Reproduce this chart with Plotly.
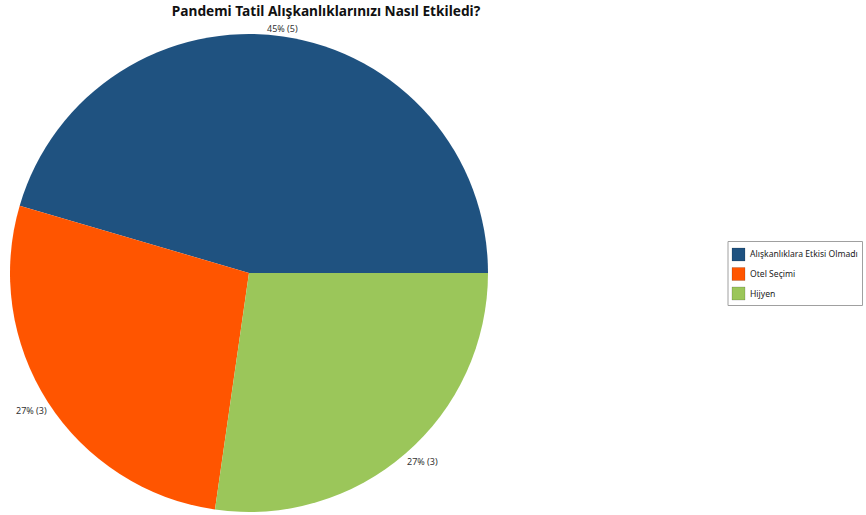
import math
import plotly.graph_objects as go

labels = ["Alışkanlıklara Etkisi Olmadı", "Otel Seçimi", "Hijyen"]
values = [5, 3, 3]
colors = ["#1F5280", "#FF5500", "#9BC65A"]

W, H = 866, 515
cx, cy, r = 249, 273, 239
FONT = "Noto Sans, sans-serif"

total = sum(values)
# first slice runs counter-clockwise from 3 o'clock
first_span = 360 * values[0] / total

fig = go.Figure(
    go.Pie(
        labels=labels,
        values=values,
        sort=False,
        direction="counterclockwise",
        rotation=90 - first_span,
        marker=dict(colors=colors, line=dict(width=0)),
        textinfo="none",
        hoverinfo="label+value+percent",
        domain=dict(
            x=[(cx - r) / W, (cx + r) / W],
            y=[(H - cy - r) / H, (H - cy + r) / H],
        ),
        automargin=False,
        showlegend=False,
    )
)

annotations = []

# "pct% (n)" labels just outside each slice, along its mid angle
start = 0.0
for v in values:
    span = 360 * v / total
    mid = math.radians(start + span / 2)
    start += span
    c, s = math.cos(mid), math.sin(mid)
    px = cx + (r - 1) * c
    py = cy - (r - 1) * s
    xa = "center" if abs(c) < 0.3 else ("left" if c > 0 else "right")
    ya = "middle" if abs(s) < 0.3 else ("bottom" if s > 0 else "top")
    annotations.append(
        dict(
            text=f"{round(100 * v / total)}% ({v})",
            xref="paper", yref="paper",
            x=px / W, y=1 - py / H,
            xanchor=xa, yanchor=ya, showarrow=False,
            font=dict(family=FONT, size=9, color="#333333"),
        )
    )

# boxed legend on the right
box_x0, box_y0, box_x1, box_y1 = 728, 241.5, 862.5, 305.5
row_y0, row_gap, sw = 248, 19.5, 13
shapes = [
    dict(
        type="rect", xref="paper", yref="paper",
        x0=box_x0 / W, x1=box_x1 / W,
        y0=1 - box_y1 / H, y1=1 - box_y0 / H,
        line=dict(color="#A0A0A0", width=1), fillcolor="white", layer="below",
    )
]
for i, (lab, col) in enumerate(zip(labels, colors)):
    top = row_y0 + i * row_gap
    shapes.append(
        dict(
            type="rect", xref="paper", yref="paper",
            x0=732 / W, x1=(732 + sw) / W,
            y0=1 - (top + sw) / H, y1=1 - top / H,
            fillcolor=col, line=dict(color="rgba(0,0,0,0.25)", width=0.6),
        )
    )
    annotations.append(
        dict(
            text=lab, xref="paper", yref="paper",
            x=748 / W, y=1 - (top + sw / 2) / H,
            xanchor="left", yanchor="middle", showarrow=False,
            font=dict(family=FONT, size=8.6, color="#222222"),
        )
    )

fig.update_layout(
    width=W,
    height=H,
    margin=dict(l=0, r=0, t=0, b=0),
    paper_bgcolor="white",
    plot_bgcolor="white",
    font=dict(family=FONT, color="#222222"),
    title=dict(
        text="<b>Pandemi Tatil Alışkanlıklarınızı Nasıl Etkiledi?</b>",
        x=326 / W,
        xanchor="center",
        y=1 - 11.5 / H,
        yanchor="middle",
        font=dict(size=13.7, color="#111111"),
    ),
    shapes=shapes,
    annotations=annotations,
    showlegend=False,
)

fig.write_html("out.html")
